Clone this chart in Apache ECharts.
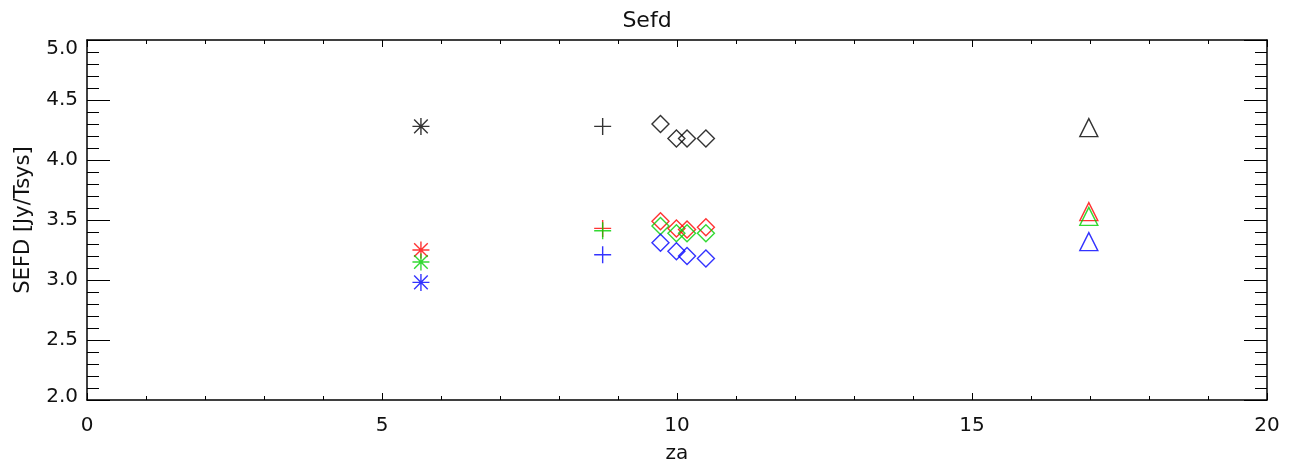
<!DOCTYPE html>
<html>
<head>
<meta charset="utf-8">
<script src="https://cdn.jsdelivr.net/npm/echarts@6/dist/echarts.min.js"></script>
<style>html,body{margin:0;padding:0;background:#fff}#c{width:1294px;height:464px}</style>
</head>
<body>
<div id="c"></div>
<script>
// zenith angle of each measurement and its marker
const za = [5.66, 8.74, 9.72, 9.99, 10.17, 10.49, 16.98];
const markers = ['asterisk', 'plus', 'diamond', 'diamond', 'diamond', 'diamond', 'triangle'];
// SEFD values per colour
const sefdBlack = [4.28, 4.28, 4.30, 4.18, 4.18, 4.18, 4.27];
const sefdRed   = [3.25, 3.43, 3.49, 3.43, 3.42, 3.44, 3.57];
const sefdGreen = [3.15, 3.41, 3.45, 3.39, 3.39, 3.39, 3.53];
const sefdBlue  = [2.98, 3.21, 3.31, 3.24, 3.20, 3.18, 3.32];
const xTicks = [0, 5, 10, 15, 20];
const yTicks = [2.0, 2.5, 3.0, 3.5, 4.0, 4.5, 5.0];

const symbolPaths = {
  asterisk: 'path://M0,-1L0,1M-1,0L1,0M-0.8,-0.8L0.8,0.8M-0.8,0.8L0.8,-0.8',
  plus: 'path://M0,-1L0,1M-1,0L1,0',
  diamond: 'path://M0,-1L1,0L0,1L-1,0Z',
  triangle: 'path://M0,-1L1,0.9L-1,0.9Z'
};
const symbolSizes = { asterisk: [17, 17], plus: [17, 17], diamond: [17, 17], triangle: [18, 18] };

function makeSeries(name, vals, color) {
  return {
    name: name,
    type: 'scatter',
    xAxisIndex: 0, yAxisIndex: 0,
    data: vals.map((v, i) => ({
      value: [za[i], v],
      symbol: symbolPaths[markers[i]],
      symbolSize: symbolSizes[markers[i]]
    })),
    itemStyle: { color: 'none', borderColor: color, borderWidth: 1.4 },
    emphasis: { disabled: true },
    animation: false
  };
}

const FONT = 'DejaVu Sans';
const TXT = '#111';
const chart = echarts.init(document.getElementById('c'));
chart.setOption({
  backgroundColor: '#fff',
  title: { text: 'Sefd', left: 'center', top: 5, textStyle: { fontFamily: FONT, fontSize: 22, fontWeight: 'normal', color: TXT } },
  grid: { left: 87, right: 27, top: 40, bottom: 64, containLabel: false, outerBoundsMode: 'none' },
  xAxis: [
    { type: 'value', min: xTicks[0], max: xTicks[xTicks.length - 1], interval: 5, position: 'bottom',
      name: 'za', nameLocation: 'middle', nameGap: 44,
      nameTextStyle: { fontFamily: FONT, fontSize: 20, color: TXT },
      axisLine: { show: true, onZero: false, lineStyle: { color: '#000', width: 1.5 } },
      axisTick: { show: true, inside: true, length: 7, lineStyle: { color: '#000' } },
      minorTick: { show: true, splitNumber: 5, length: 4, lineStyle: { color: '#000' } },
      axisLabel: { margin: 16, fontFamily: FONT, fontSize: 20, color: TXT },
      splitLine: { show: false } },
    { type: 'value', min: xTicks[0], max: xTicks[xTicks.length - 1], interval: 5, position: 'top',
      axisLine: { show: true, onZero: false, lineStyle: { color: '#000', width: 1.5 } },
      axisTick: { show: true, inside: true, length: 7, lineStyle: { color: '#000' } },
      minorTick: { show: true, splitNumber: 5, length: 4, lineStyle: { color: '#000' } },
      axisLabel: { show: false }, splitLine: { show: false } }
  ],
  yAxis: [
    { type: 'value', min: yTicks[0], max: yTicks[yTicks.length - 1], interval: 0.5, position: 'left',
      name: 'SEFD [Jy/Tsys]', nameLocation: 'middle', nameGap: 53,
      nameTextStyle: { fontFamily: FONT, fontSize: 21, color: TXT },
      axisLine: { show: true, onZero: false, lineStyle: { color: '#000', width: 1.5 } },
      axisTick: { show: true, inside: true, length: 23, lineStyle: { color: '#000' } },
      minorTick: { show: true, splitNumber: 5, length: 12, lineStyle: { color: '#000' } },
      axisLabel: { margin: 9, fontFamily: FONT, fontSize: 20, color: TXT,
        formatter: v => v === 5 ? '{t|' + v.toFixed(1) + '}' : (v === 2 ? '{b|' + v.toFixed(1) + '}' : v.toFixed(1)),
        rich: { t: { fontFamily: FONT, fontSize: 20, color: TXT, padding: [18, 0, 0, 0] },
                b: { fontFamily: FONT, fontSize: 20, color: TXT, padding: [0, 0, 6, 0] } } },
      splitLine: { show: false } },
    { type: 'value', min: yTicks[0], max: yTicks[yTicks.length - 1], interval: 0.5, position: 'right',
      axisLine: { show: true, onZero: false, lineStyle: { color: '#000', width: 1.5 } },
      axisTick: { show: true, inside: true, length: 23, lineStyle: { color: '#000' } },
      minorTick: { show: true, splitNumber: 5, length: 12, lineStyle: { color: '#000' } },
      axisLabel: { show: false }, splitLine: { show: false } }
  ],
  series: [
    makeSeries('black', sefdBlack, '#000000'),
    makeSeries('red', sefdRed, '#ff0000'),
    makeSeries('green', sefdGreen, '#00d000'),
    makeSeries('blue', sefdBlue, '#0000ff')
  ]
});
</script>
</body>
</html>
